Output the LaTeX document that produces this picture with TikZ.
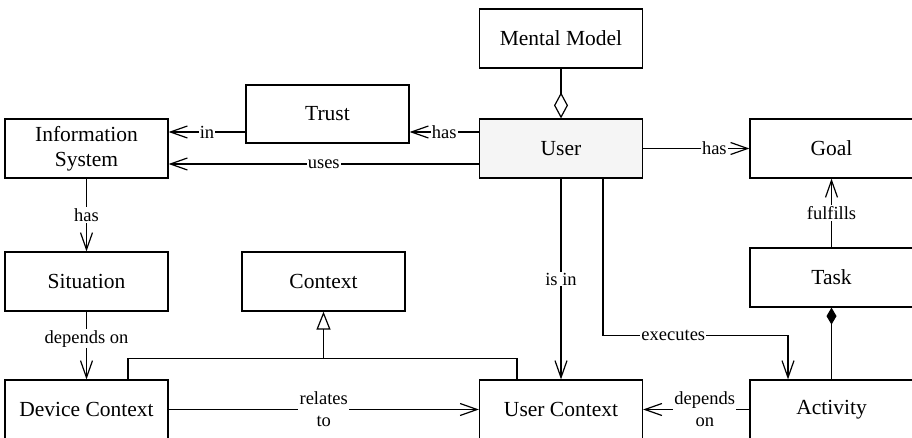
\documentclass[tikz,border=0pt]{standalone}
\usepackage{fontspec}
\setmainfont{Liberation Serif}
\newfontfamily\umlfont{Liberation Serif}
\usetikzlibrary{arrows.meta,calc}

\tikzset{
  cls/.style={draw, line width=1.2pt, minimum width=163pt, minimum height=59pt,
    inner sep=2pt, align=center, font=\umlfont\fontsize{21.5}{25}\selectfont},
  lbl/.style={fill=white, inner sep=1.2pt, align=center,
    font=\umlfont\fontsize{18.5}{22}\selectfont},
  assoc/.style={line width=1.2pt, -{Straight Barb[length=17pt,width=12pt,line width=1.2pt]}},
  aggr/.style={line width=1.2pt, -{Diamond[open,length=26pt,width=14pt,line width=1.2pt]}},
  compo/.style={line width=1.2pt, -{Diamond[length=17pt,width=10pt]}},
  gener/.style={line width=1.2pt, -{Triangle[open,length=18pt,width=14pt,line width=1.2pt]}},
  plain/.style={line width=1.2pt}
}

\begin{document}
\begin{tikzpicture}[x=1pt, y=-1pt]
  \clip (0,0) rectangle (912,438);

  % classes
  \node[cls] (mm)   at (561,38.5)   {Mental Model};
  \node[cls, fill=black!4] (user) at (561,148.5) {User};
  \node[cls] (goal) at (831.5,148.5) {Goal};
  \node[cls, minimum height=58pt] (trust) at (327.5,114) {Trust};
  \node[cls] (info) at (86.5,148.5) {Information\\System};
  \node[cls] (sit)  at (86.5,281.5) {Situation};
  \node[cls] (ctx)  at (323.5,281.5) {Context};
  \node[cls] (task) at (831.5,277.5) {Task};
  \node[cls] (dev)  at (86.5,409.5) {Device Context};
  \node[cls] (uctx) at (561,409.5) {User Context};
  \node[cls] (act)  at (831.5,409.5) {Activity};

  % helper points for offset connectors
  \coordinate (uHas)  at ([yshift=16.5pt]user.west);
  \coordinate (tIn)   at ([yshift=16.5pt]info.east);
  \coordinate (uUses) at ([yshift=-15.5pt]user.west);
  \coordinate (uExec) at ([xshift=42pt]user.south);
  \coordinate (aExec) at ([xshift=-43.5pt]act.north);
  \coordinate (dGen)  at ([xshift=41.5pt]dev.north);
  \coordinate (ucGen) at ([xshift=-44pt]uctx.north);
  \coordinate (gJoin) at ([yshift=21pt]dev.north -| ctx.south);

  % associations
  \draw[aggr] (mm) -- (user);
  \draw[assoc] (uHas) -- node[lbl]{has} (uHas -| trust.east);
  \draw[assoc] (tIn -| trust.west) -- node[lbl]{in} (tIn);
  \draw[assoc] (uUses) -- node[lbl]{uses} (uUses -| info.east);
  \draw[assoc] (info) -- node[lbl]{has} (sit);
  \draw[assoc] (user) -- node[lbl, pos=0.67]{has} (goal);
  \draw[assoc] (task) -- node[lbl]{fulfills} (goal);
  \draw[compo] (act) -- (task);
  \draw[assoc] (user) -- node[lbl]{is in} (uctx);
  \draw[assoc] (uExec) -- ++(0,157) -| node[lbl, pos=0.19]{executes} (aExec);
  \draw[assoc] (sit) -- node[lbl, pos=0.4]{depends on} (dev);
  \draw[assoc] (dev) -- node[lbl]{relates\\to} (uctx);
  \draw[assoc] (act) -- node[lbl, pos=0.42]{depends\\on} (uctx);

  % generalization
  \draw[plain] (dGen) |- (gJoin) -| (ucGen);
  \draw[gener] (gJoin) -- (ctx.south);
\end{tikzpicture}
\end{document}
